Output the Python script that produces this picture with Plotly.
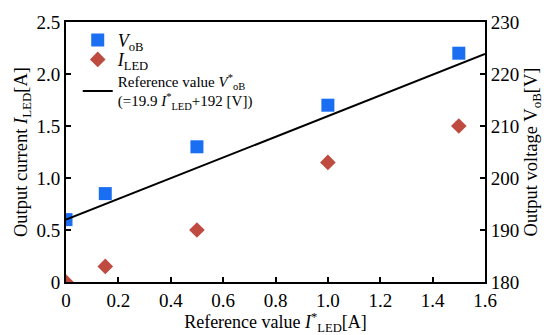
import plotly.graph_objects as go

# Data
i_ref = [0, 0.15, 0.5, 1.0, 1.5]
v_ob = [192, 197, 206, 214, 224]
i_led = [0.0, 0.15, 0.5, 1.15, 1.5]
line_x = [0, 1.6]
slope, intercept = 19.9, 192

x_ticks = [0, 0.2, 0.4, 0.6, 0.8, 1.0, 1.2, 1.4, 1.6]
x_ticktext = ["0", "0.2", "0.4", "0.6", "0.8", "1.0", "1.2", "1.4", "1.6"]
y_ticks = [0, 0.5, 1.0, 1.5, 2.0, 2.5]
y_ticktext = ["0", "0.5", "1.0", "1.5", "2.0", "2.5"]
y2_ticks = [180, 190, 200, 210, 220, 230]

FONT = "Liberation Serif, Times New Roman, serif"
BLUE = "#1a6ef2"
RED = "#bf4b40"

fig = go.Figure()
fig.add_trace(go.Scatter(
    x=i_ref, y=v_ob, mode="markers", yaxis="y2", legend="legend",
    marker=dict(symbol="square", size=13, color=BLUE),
    name="<i>V</i><sub>oB</sub>"))
fig.add_trace(go.Scatter(
    x=i_ref, y=i_led, mode="markers", yaxis="y", legend="legend2",
    marker=dict(symbol="diamond", size=12, color=RED),
    name="<i>I</i><sub>LED</sub>"))
fig.add_trace(go.Scatter(
    x=line_x, y=[slope * v + intercept for v in line_x], mode="lines", yaxis="y2",
    legend="legend3",
    line=dict(color="black", width=2),
    name="Reference value <i>V</i><sup>*</sup><sub>oB</sub><br>(=19.9 <i>I</i><sup>*</sup><sub>LED</sub>+192 [V])"))

axis_common = dict(showgrid=False, zeroline=False, showline=True, linecolor="black",
                   linewidth=2, ticks="inside", ticklen=5, tickwidth=2, tickcolor="black",
                   tickfont=dict(family=FONT, size=19, color="black"))

leg_common = dict(xanchor="left", bgcolor="rgba(0,0,0,0)", tracegroupgap=0, itemwidth=30)

fig.update_layout(
    width=550, height=335,
    margin=dict(l=66, r=65, t=19, b=53),
    paper_bgcolor="white", plot_bgcolor="white",
    font=dict(family=FONT, size=15, color="black"),
    xaxis=dict(range=[0, 1.6], tickvals=x_ticks, ticktext=x_ticktext, mirror=True,
               title=dict(text="Reference value <i>I</i><sup>*</sup><sub>LED</sub>[A]",
                          font=dict(family=FONT, size=18), standoff=0),
               **axis_common),
    yaxis=dict(range=[0, 2.5], tickvals=y_ticks, ticktext=y_ticktext,
               title=dict(text="Output current <i>I</i><sub>LED</sub>[A]",
                          font=dict(family=FONT, size=18.5), standoff=4),
               **axis_common),
    yaxis2=dict(range=[180, 230], tickvals=y2_ticks, overlaying="y", side="right",
                title=dict(text="Output voltage V<sub>oB</sub>[V]",
                           font=dict(family=FONT, size=18.5), standoff=6),
                **axis_common),
    showlegend=True,
    legend=dict(x=0.028, y=0.93, yanchor="middle", font=dict(family=FONT, size=18), **leg_common),
    legend2=dict(x=0.028, y=0.855, yanchor="middle", font=dict(family=FONT, size=18), **leg_common),
    legend3=dict(x=0.028, y=0.835, yanchor="top", font=dict(family=FONT, size=15), **leg_common),
)

fig.write_html("out.html", config={"displayModeBar": False},
               post_script="document.body.style.margin='0';document.body.style.padding='0';")
